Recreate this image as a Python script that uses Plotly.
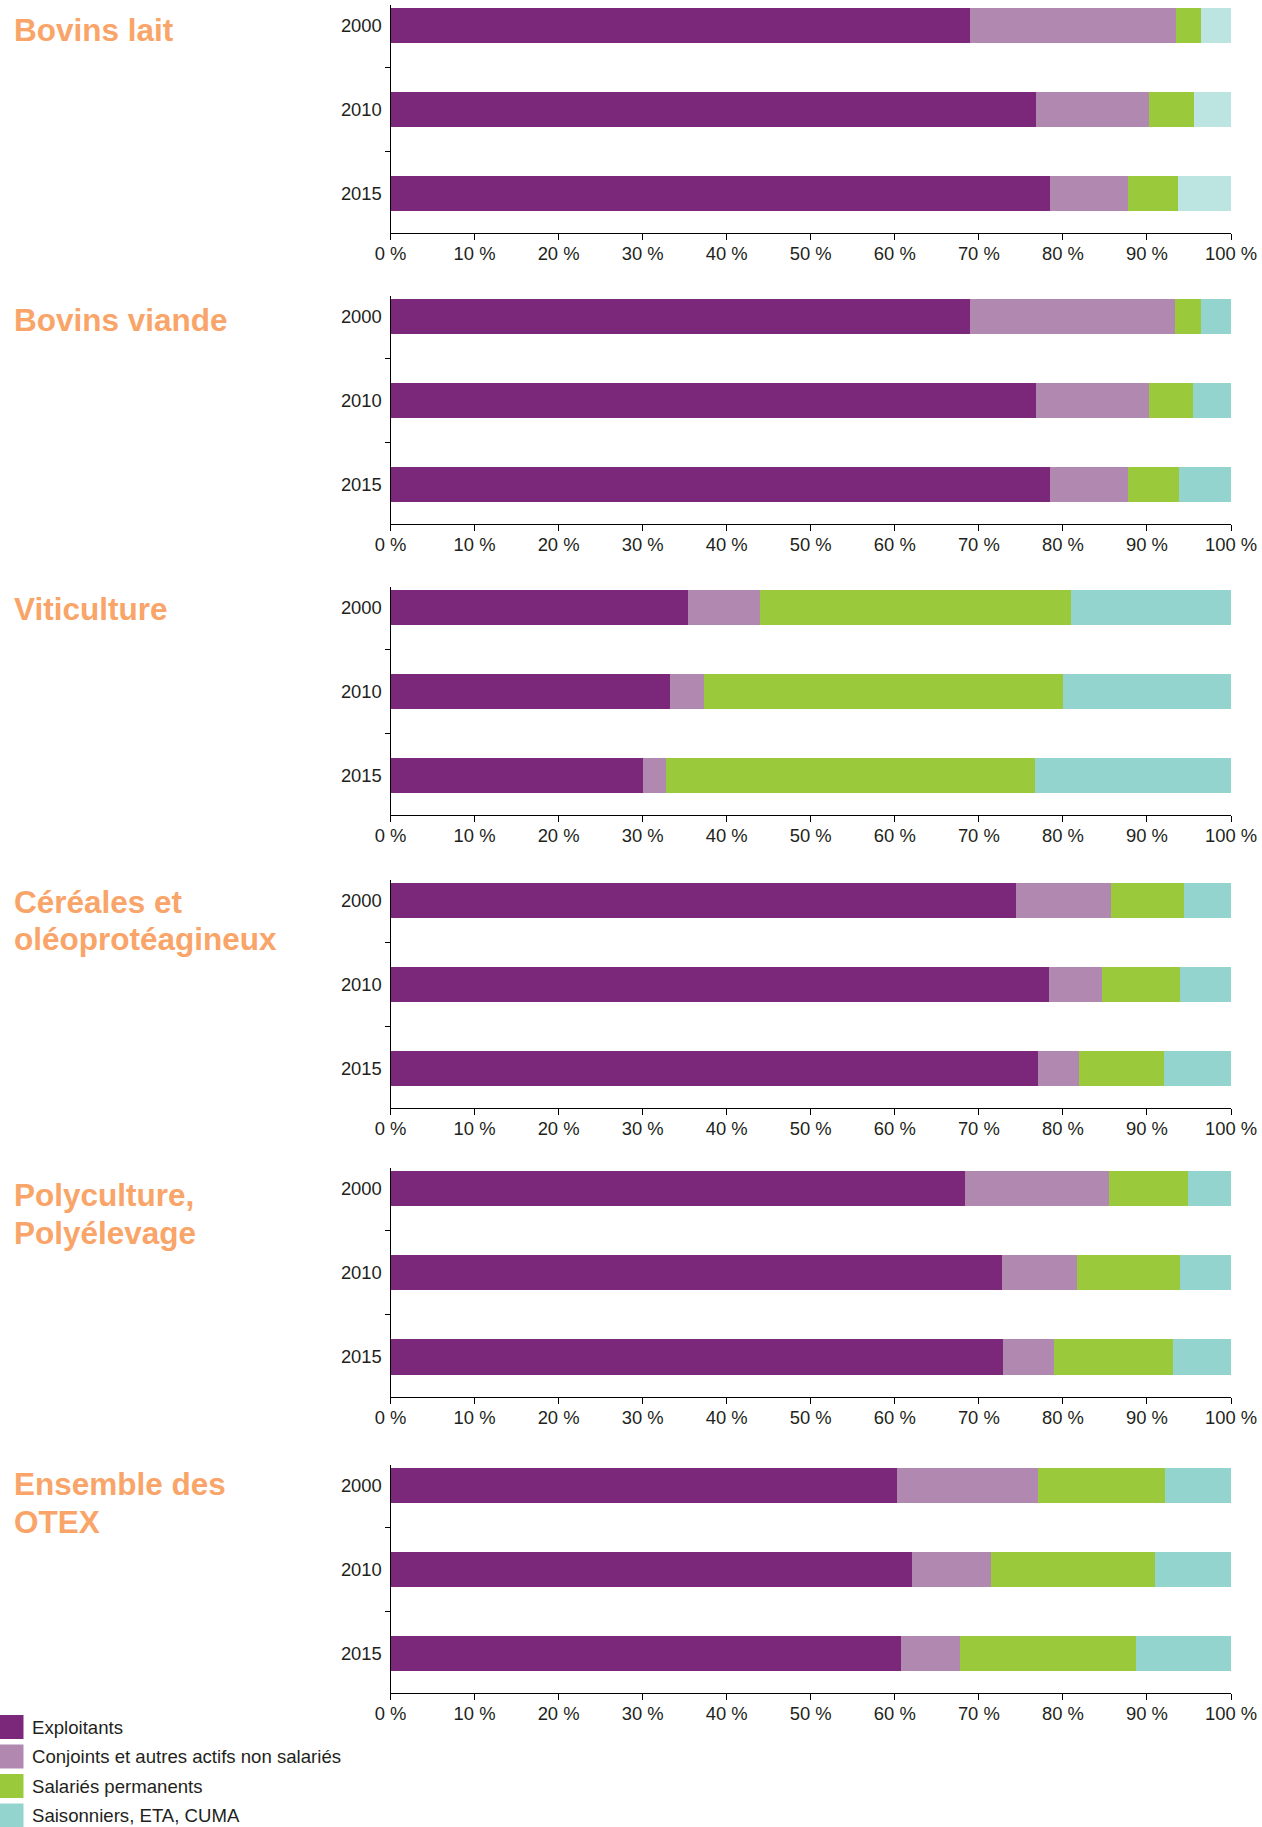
import plotly.graph_objects as go

# ---------------- data ----------------
panels = ["Bovins lait", "Bovins viande", "Viticulture",
          "Céréales et<br>oléoprotéagineux", "Polyculture,<br>Polyélevage",
          "Ensemble des<br>OTEX"]
years = ["2000", "2010", "2015"]
series_names = ["Exploitants", "Conjoints et autres actifs non salariés",
                "Salariés permanents", "Saisonniers, ETA, CUMA"]

# values in %, per panel, per year (2000, 2010, 2015)
exploitants = [[68.9, 76.8, 78.5], [68.9, 76.8, 78.5], [35.4, 33.2, 30.1],
               [74.4, 78.4, 77.0], [68.3, 72.7, 72.9], [60.3, 62.0, 60.7]]
conjoints = [[24.6, 13.4, 9.2], [24.4, 13.5, 9.3], [8.6, 4.1, 2.7],
             [11.3, 6.3, 4.9], [17.2, 9.0, 6.0], [16.7, 9.5, 7.0]]
salaries = [[2.9, 5.4, 6.0], [3.1, 5.2, 6.0], [37.0, 42.7, 43.9],
            [8.7, 9.2, 10.1], [9.4, 12.2, 14.2], [15.1, 19.4, 21.0]]
saisonniers = [[3.6, 4.4, 6.3], [3.6, 4.5, 6.2], [19.0, 20.0, 23.3],
               [5.6, 6.1, 8.0], [5.1, 6.1, 6.9], [7.9, 9.1, 11.3]]

x_ticks = list(range(0, 101, 10))
x_ticktext = [f"{v} %" for v in x_ticks]

# ---------------- style ----------------
colors = ["#7B287A", "#B088B0", "#9ACA3C", "#93D4CF"]
title_color = "#F9A468"
text_color = "#231F20"
FONT = "Liberation Sans, Arial, sans-serif"
W, H = 1262, 1827

axis_bottom_px = [233.3, 524.3, 815.3, 1108.3, 1396.7, 1693.3]
axis_height_px = 228.5
title_captop_px = [18.1, 308.3, 597.3, 889.7, 1183.3, 1472.3]
title_line_px = 37.5
x_dom = [390.5 / W, 1231 / W]

fig = go.Figure()
data_sets = [exploitants, conjoints, salaries, saisonniers]

for i in range(len(panels)):
    n = "" if i == 0 else str(i + 1)
    for s, vals in enumerate(data_sets):
        col = colors[s]
        if s == 3 and i == 0:
            col = "#BCE4E1"
        fig.add_trace(go.Bar(
            x=vals[i], y=years, orientation="h",
            name=series_names[s], marker=dict(color=col, line=dict(width=0)),
            xaxis="x" + n, yaxis="y" + n, showlegend=False,
            hovertemplate="%{y}: %{x} %<extra>" + series_names[s] + "</extra>"))

    b = axis_bottom_px[i]
    t = b - axis_height_px
    fig.layout["xaxis" + n] = dict(
        domain=x_dom, anchor="y" + n, range=[0, 100], automargin=False,
        tickmode="array", tickvals=x_ticks, ticktext=x_ticktext,
        ticks="outside", ticklen=6, tickcolor="#000", tickwidth=1,
        showline=True, linecolor="#000", linewidth=1,
        showgrid=False, zeroline=False, ticklabelstandoff=-2,
        tickfont=dict(family=FONT, size=18.4, color=text_color))
    fig.layout["yaxis" + n] = dict(
        domain=[1 - b / H, 1 - t / H], anchor="x" + n, automargin=False,
        type="category", categoryorder="array", categoryarray=years,
        range=[2.472, -0.244], tickson="boundaries",
        ticks="outside", ticklen=5, tickcolor="#000", tickwidth=1,
        showline=True, linecolor="#000", linewidth=1,
        showgrid=False, zeroline=False, ticklabelstandoff=4,
        tickfont=dict(family=FONT, size=18.4, color=text_color))

    for j, line in enumerate(panels[i].split("<br>")):
        fig.add_annotation(
            text="<b>" + line + "</b>", xref="paper", yref="paper",
            x=12 / W, y=1 - (title_captop_px[i] - 8 + j * title_line_px) / H,
            xanchor="left", yanchor="top", align="left", showarrow=False,
            font=dict(family=FONT, size=31.5, color=title_color))

# ---------------- legend ----------------
leg_top = [1715, 1744.5, 1774, 1803.5]
for k, name in enumerate(series_names):
    y0 = leg_top[k]
    fig.add_shape(type="rect", xref="paper", yref="paper",
                  x0=0, x1=23.5 / W, y0=1 - (y0 + 24) / H, y1=1 - y0 / H,
                  fillcolor=colors[k], line=dict(width=0))
    fig.add_annotation(text=name, xref="paper", yref="paper",
                       x=30 / W, y=1 - (y0 + 12) / H, xanchor="left",
                       yanchor="middle", showarrow=False,
                       font=dict(family=FONT, size=18.6, color=text_color))

fig.update_layout(
    width=W, height=H, autosize=False, barmode="stack", bargap=0.583,
    margin=dict(l=0, r=0, t=0, b=0, pad=0, autoexpand=False),
    paper_bgcolor="white", plot_bgcolor="white",
    font=dict(family=FONT, color=text_color))

fig.write_html("out.html", config={"displayModeBar": False},
               post_script="document.body.style.margin='0';"
                           "document.body.style.overflow='hidden';")
